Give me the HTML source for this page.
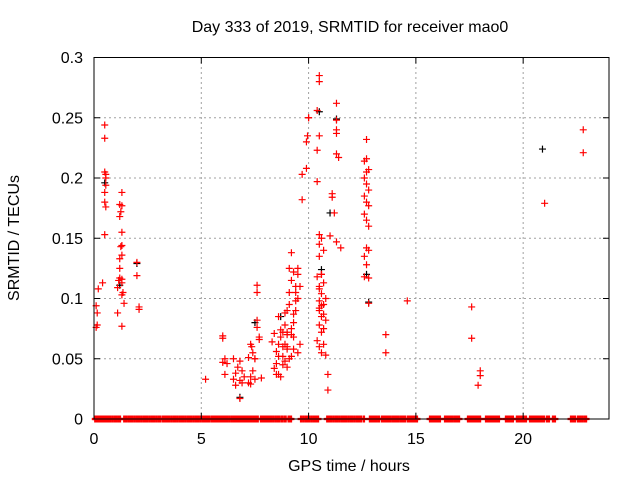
<!DOCTYPE html>
<html><head><meta charset="utf-8"><style>
body{margin:0;background:#fff}
svg{display:block;font-family:"Liberation Sans",sans-serif}
</style></head><body>
<svg id="chart" width="640" height="480" viewBox="0 0 640 480">
<rect width="640" height="480" fill="#fff"/>
<text x="350" y="32" font-size="16" text-anchor="middle">Day 333 of 2019, SRMTID for receiver mao0</text>
<text x="349" y="471" font-size="16" text-anchor="middle">GPS time / hours</text>
<text transform="translate(19,238) rotate(-90)" font-size="16" text-anchor="middle">SRMTID / TECUs</text>
<g id="grid"></g>
<g id="marks"></g>
<rect x="94" y="57.5" width="515" height="361.5" fill="none" stroke="#000" stroke-width="1"/>
<g id="ticks"></g>
</svg>
<script>
const xTicks=[0,5,10,15,20];
const yTicks=[0,0.05,0.1,0.15,0.2,0.25,0.3];
const yTickLabels=["0","0.05","0.1","0.15","0.2","0.25","0.3"];
const redX=[0.1,0.15,0.1,0.15,0.2,0.4,
0.5,0.5,0.5,0.55,0.55,0.55,0.5,0.5,0.55,0.5,
1.3,1.2,1.3,1.25,1.2,1.3,1.3,1.25,1.3,1.2,1.2,1.2,1.3,1.15,1.3,1.1,1.35,1.3,1.4,1.1,1.3,
2.0,2.0,2.1,2.1,5.2,
6.0,6.0,6.1,6.0,6.2,6.1,
6.5,6.8,6.7,6.9,6.6,7.0,6.5,6.8,6.9,6.6,6.8,
7.3,7.35,7.4,7.2,7.5,7.4,7.3,7.5,7.2,7.3,7.6,7.6,7.6,7.6,7.7,7.7,7.5,7.8,
8.3,8.4,8.5,8.6,8.4,8.7,8.5,8.8,8.6,8.9,8.7,8.8,8.9,9.0,8.6,8.8,8.9,9.0,8.7,8.5,8.8,9.0,8.9,8.6,
9.0,9.1,9.2,9.0,9.1,9.2,9.3,9.1,9.2,9.3,9.4,9.3,9.5,9.4,9.2,9.3,9.5,9.4,9.6,9.3,9.1,9.5,9.6,9.2,9.0,9.4,9.5,
9.7,9.7,10.0,9.95,10.0,9.9,9.9,
10.5,10.5,10.4,10.5,10.4,10.4,10.5,10.6,10.5,
10.5,10.6,10.4,10.7,10.5,10.6,10.8,10.5,10.7,10.6,10.5,10.7,10.6,10.8,10.5,10.7,10.6,10.4,10.7,10.5,10.6,10.8,10.5,10.6,10.7,10.5,
10.9,10.9,
11.3,11.3,11.3,11.3,11.3,11.4,11.1,11.1,11.2,11.0,11.3,11.5,
12.7,12.7,12.6,12.8,12.7,12.6,12.7,12.8,12.6,12.7,12.8,12.6,12.7,12.8,12.7,12.8,12.6,12.7,12.6,12.8,12.8,
13.6,13.6,14.6,17.6,17.6,18.0,18.0,17.9,21.0,22.8,22.8];
const redY=[0.076,0.078,0.094,0.088,0.108,0.113,
0.244,0.233,0.205,0.203,0.2,0.194,0.188,0.18,0.176,0.153,
0.188,0.178,0.177,0.172,0.168,0.155,0.144,0.143,0.136,0.133,0.125,0.117,0.116,0.115,0.113,0.109,0.105,0.103,0.096,0.088,0.077,
0.13,0.119,0.093,0.091,0.033,
0.069,0.067,0.05,0.047,0.046,0.037,
0.05,0.048,0.043,0.04,0.038,0.035,0.033,0.032,0.03,0.028,0.017,
0.062,0.06,0.055,0.051,0.05,0.04,0.035,0.033,0.03,0.029,0.111,0.105,0.082,0.076,0.068,0.066,0.05,0.034,
0.064,0.071,0.056,0.085,0.042,0.074,0.046,0.06,0.052,0.088,0.068,0.045,0.078,0.07,0.037,0.052,0.062,0.058,0.035,0.037,0.072,0.09,0.048,0.062,
0.043,0.105,0.115,0.06,0.125,0.075,0.08,0.095,0.07,0.068,0.105,0.058,0.12,0.11,0.138,0.122,0.1,0.09,0.11,0.087,0.05,0.125,0.062,0.052,0.072,0.098,0.055,
0.203,0.182,0.25,0.235,0.25,0.23,0.208,
0.285,0.28,0.256,0.235,0.223,0.197,0.153,0.15,0.145,
0.135,0.12,0.118,0.113,0.108,0.104,0.1,0.098,0.095,0.094,0.09,0.087,0.085,0.082,0.078,0.075,0.072,0.065,0.062,0.06,0.055,0.053,0.11,0.12,0.14,0.092,
0.037,0.024,
0.262,0.248,0.24,0.237,0.22,0.217,0.187,0.184,0.171,0.152,0.147,0.142,
0.232,0.216,0.214,0.207,0.205,0.2,0.195,0.19,0.185,0.18,0.177,0.17,0.165,0.16,0.142,0.14,0.135,0.128,0.118,0.117,0.096,
0.07,0.055,0.098,0.093,0.067,0.04,0.036,0.028,0.179,0.24,0.221];
const blackX=[0.5,1.2,2.0,6.8,7.5,8.7,10.5,10.6,11.0,11.3,12.7,12.8,20.9];
const blackY=[0.196,0.111,0.129,0.018,0.08,0.085,0.255,0.124,0.171,0.249,0.12,0.097,0.224];
const zeroX=[0.06,0.09,0.14,0.19,0.25,0.29,0.33,0.40,0.46,0.51,0.57,0.61,0.65,0.75,0.85,0.95,1.05,1.15,1.21,
1.41,1.5,1.6,1.7,1.8,1.9,2.0,2.1,2.2,2.3,2.4,2.5,2.6,2.7,2.8,2.9,3.0,3.1,3.22,
3.28,3.34,3.40,3.5,3.6,3.7,3.8,3.9,4.0,4.1,4.15,4.25,4.35,4.45,4.55,4.65,4.75,4.85,4.95,5.05,5.13,
5.19,5.27,5.36,5.47,5.50,5.59,5.68,5.77,5.86,5.95,6.04,6.10,6.2,6.3,6.4,6.5,6.6,6.65,6.71,6.78,6.85,6.94,7.03,7.12,7.2,7.27,7.33,7.42,7.47,7.55,7.63,7.78,7.87,7.97,8.06,8.15,8.25,8.35,8.45,8.55,8.65,8.76,8.87,8.93,9.07,9.12,9.18,9.65,9.75,9.85,9.95,10.05,10.15,10.25,10.35,10.44,
10.87,10.95,11.05,11.15,11.25,11.35,11.45,11.55,11.65,11.75,11.85,11.95,12.05,12.15,12.25,12.35,12.45,12.58,
12.86,12.95,13.05,13.09,13.18,13.28,13.42,13.49,13.56,13.61,13.7,13.8,13.9,13.98,14.03,14.12,14.2,14.3,14.4,14.5,14.63,14.68,14.75,14.82,14.91,14.98,15.05,
15.66,15.73,15.80,15.84,15.91,15.98,16.03,16.12,16.36,16.45,16.54,16.63,16.72,16.82,16.87,16.94,17.01,17.43,17.5,17.58,17.66,17.71,17.8,17.85,17.92,17.99,18.27,18.34,18.41,18.45,18.55,18.59,18.64,18.73,18.8,18.87,19.20,19.27,19.34,19.38,19.45,19.52,19.71,19.76,19.85,19.94,20.04,20.13,20.32,20.41,20.50,20.60,20.69,20.78,20.83,20.88,20.92,20.97,21.11,21.20,21.39,21.48,22.23,22.32,22.41,22.55,22.65,22.75,22.85,22.93];
const NS="http://www.w3.org/2000/svg";
const X0=94,X1=609,Y0=419,Y1=57.5,XMAX=24,YMAX=0.3;
function sx(v){return X0+(X1-X0)*v/XMAX;}
function sy(v){return Y0-(Y0-Y1)*v/YMAX;}
function mk(tag,attrs,parent){const e=document.createElementNS(NS,tag);for(const k in attrs)e.setAttribute(k,attrs[k]);parent.appendChild(e);return e;}
const grid=document.getElementById('grid'),ticks=document.getElementById('ticks'),marks=document.getElementById('marks');
xTicks.forEach((t,i)=>{
  const x=sx(t);
  if(t>0){const g=mk('line',{x1:x,x2:x,y1:Y0,y2:Y1,stroke:'#a0a0a0','stroke-dasharray':'2,3'},grid);
  
  }
  mk('line',{x1:x,x2:x,y1:Y0,y2:Y0-6,stroke:'#000'},ticks);
  mk('line',{x1:x,x2:x,y1:Y1,y2:Y1+6,stroke:'#000'},ticks);
  const tx=mk('text',{x:x,y:444,'font-size':16,'text-anchor':'middle'},ticks);tx.textContent=String(t);
  
  
});
yTicks.forEach((t,i)=>{
  const y=sy(t);
  if(t>0&&t<0.3){const g=mk('line',{x1:X0,x2:X1,y1:y,y2:y,stroke:'#a0a0a0','stroke-dasharray':'2,3'},grid);
  
  }
  mk('line',{x1:X0,x2:X0+6,y1:y,y2:y,stroke:'#000'},ticks);
  mk('line',{x1:X1,x2:X1-6,y1:y,y2:y,stroke:'#000'},ticks);
  const tx=mk('text',{x:83,y:y+5.5,'font-size':16,'text-anchor':'end'},ticks);tx.textContent=yTickLabels[i];
  
  
});
function plus(x,y,col,w){
  const p=mk('path',{d:`M${x-3.5} ${y}H${x+3.5}M${x} ${y-3.5}V${y+3.5}`,stroke:col,'stroke-width':w,fill:'none'},marks);
  
  
}
blackX.forEach((v,i)=>plus(sx(v),sy(blackY[i]),'#000',1.2));
redX.forEach((v,i)=>plus(sx(v),sy(redY[i]),'#f00',1.2));
zeroX.forEach(v=>plus(sx(v),sy(0),'#f00',2.3));
</script>
</body></html>
